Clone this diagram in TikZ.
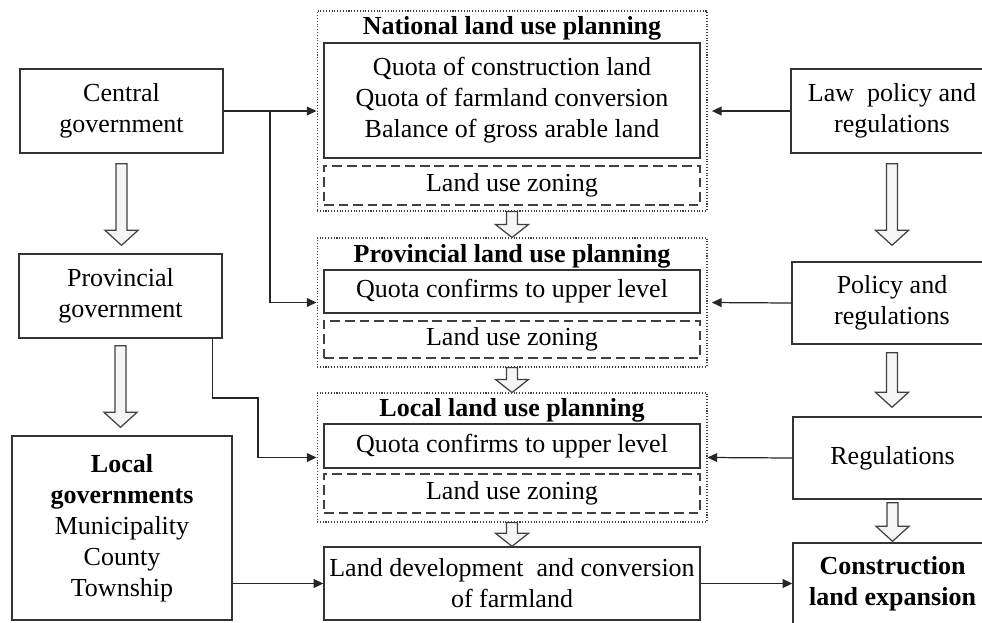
\documentclass[tikz,border=0pt]{standalone}
\usepackage{fontspec}
\setmainfont{Liberation Serif}
\usetikzlibrary{arrows.meta,calc}

\tikzset{
  box/.style={draw=black!80, line width=0.8pt, align=center, inner sep=0pt},
  planbox/.style={draw=black!75, densely dotted, line width=0.6pt, inner sep=0pt, minimum width=7.8cm},
  zonebox/.style={draw=black!75, dash pattern=on 5.5pt off 2.8pt, line width=0.7pt, inner sep=0pt, minimum width=7.52cm},
  plantitle/.style={font=\fontsize{14.8pt}{17.6pt}\selectfont\bfseries, anchor=base, inner sep=0pt},
  conn/.style={draw=black!85, line width=0.7pt, -{Triangle[length=5.5pt,width=5pt]}},
  blockarr/.style={draw=black!75, fill=black!4, line width=0.7pt, line join=miter},
}
% [head length]{from}{to}{gap at from}{gap at to}
\newcommand{\blockarrow}[5][15]{%
  \draw[blockarr] ($(#2)+(-5.5,#4)$) -- ($(#2)+(5.5,#4)$)
    -- ($(#2 |- #3)+(5.5,-#5-#1)$) -- ($(#2 |- #3)+(16.5,-#5-#1)$)
    -- ($(#2 |- #3)+(0,-#5)$) -- ($(#2 |- #3)+(-16.5,-#5-#1)$)
    -- ($(#2 |- #3)+(-5.5,-#5-#1)$) -- cycle;}

\begin{document}
\begin{tikzpicture}[x=0.02cm, y=-0.02cm, font=\fontsize{14.8pt}{17.6pt}\selectfont]
      \useasboundingbox (0,0) rectangle (982,622);
      \clip (0,0) rectangle (982,622);

      % governments
      \node[box, minimum width=4.06cm, minimum height=1.68cm] (central) at (121.5,111) {Central\\government};
      \node[box, minimum width=4.06cm, minimum height=1.68cm] (provgov) at (120.5,296) {Provincial\\government};
      \node[box, minimum width=4.4cm, minimum height=3.68cm] (localgov) at (122,528)
        {\textbf{Local}\\\textbf{governments}\\Municipality\\County\\Township};

      % planning levels
      \node[planbox, minimum height=4cm] (nat) at (512,111) {};
      \node[plantitle] (nattitle) at (512,34) {National land use planning};
      \node[box, minimum width=7.52cm, minimum height=2.3cm] (natquota) at (512,100.5)
        {Quota of construction land\\Quota of farmland conversion\\Balance of gross arable land};
      \node[zonebox, minimum height=0.78cm] (natzone) at (512,185.5) {Land use zoning};

      \node[planbox, minimum height=2.58cm] (prov) at (512,302.5) {};
      \node[plantitle] (provtitle) at (512,262) {Provincial land use planning};
      \node[box, minimum width=7.52cm, minimum height=0.86cm] (provquota) at (512,291.5) {Quota confirms to upper level};
      \node[zonebox, minimum height=0.74cm] (provzone) at (512,339.5) {Land use zoning};

      \node[planbox, minimum height=2.58cm] (loc) at (512,457.5) {};
      \node[plantitle] (loctitle) at (512,416) {Local land use planning};
      \node[box, minimum width=7.52cm, minimum height=0.88cm] (locquota) at (512,446) {Quota confirms to upper level};
      \node[zonebox, minimum height=0.78cm] (loczone) at (512,493.5) {Land use zoning};

      \node[box, minimum width=7.52cm, minimum height=1.46cm] (landdev) at (512,583.5)
        {Land development\ \ and conversion\\of farmland};

      % rules
      \node[box, minimum width=4.04cm, minimum height=1.68cm] (law) at (892,111) {Law\ \ policy and\\regulations};
      \node[box, minimum width=4cm, minimum height=1.64cm] (policy) at (892,303) {Policy and\\regulations};
      \node[box, minimum width=3.98cm, minimum height=1.64cm] (regs) at (892.5,458) {Regulations};
      \node[box, minimum width=3.98cm, minimum height=1.64cm] (constr) at (892.5,584)
        {\textbf{Construction}\\\textbf{land expansion}};

      % connectors
      \coordinate (bend) at (258,398);
      \draw[conn] (central.east) -- (nat.west);
      \draw[conn] ($(central.east)!0.5!(nat.west)$) |- (prov.west);
      \draw[conn] ($(provgov.south east)+(-10,0)$) |- (bend) |- (loc.west);
      \draw[conn] (landdev.west -| localgov.east) -- (landdev.west);
      \draw[conn] (landdev.east) -- (constr.west |- landdev.east);
      \draw[conn, shorten >=2.5pt] (law.west) -- (nat.east);
      \draw[conn, shorten >=2.5pt] (policy.west) -- (prov.east);
      \draw[conn] (regs.west) -- (loc.east);

      \blockarrow{central.south}{provgov.north}{10}{8}
      \blockarrow{provgov.south}{localgov.north}{7}{8}
      \blockarrow[13]{nat.south}{prov.north}{0}{0}
      \blockarrow[13]{prov.south}{loc.north}{0}{0}
      \blockarrow[13]{loc.south}{landdev.north}{0}{0}
      \blockarrow{law.south}{policy.north}{10}{16}
      \blockarrow{policy.south}{regs.north}{8}{9}
      \blockarrow{regs.south}{constr.north}{3}{1}
    \end{tikzpicture}
\end{document}
